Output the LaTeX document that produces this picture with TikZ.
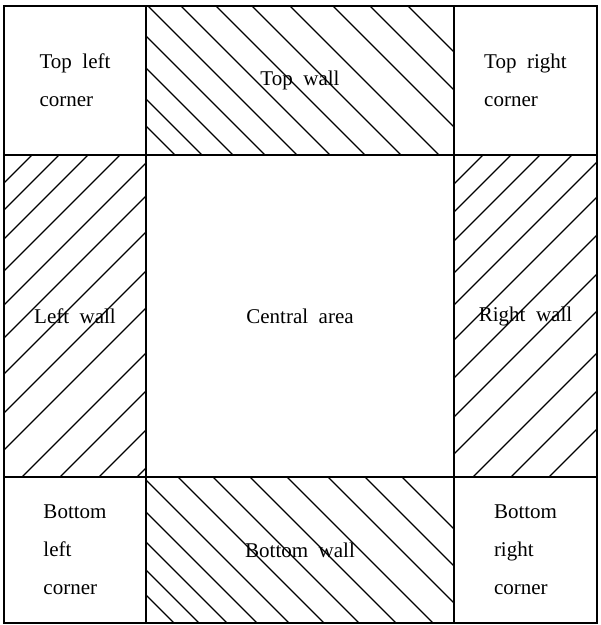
\documentclass[tikz,border=0pt]{standalone}
\usepackage{fontspec}
\setmainfont{Liberation Serif}
\usetikzlibrary{positioning}
\newcommand\cellfont{\fontsize{10.5}{19}\selectfont\spaceskip 0.5em plus 0.1em\relax}
\tikzset{
  cell/.style={draw,rectangle,line width=0.8pt,inner sep=0pt,outer sep=0pt,align=left,font=\cellfont},
  hatch/.style={line width=0.6pt}
}

\begin{document}
\begin{tikzpicture}[x=0.5pt,y=-0.5pt,node distance=0pt]
\useasboundingbox (0,0) rectangle (600,625);

% top row
\node[cell,minimum width=71pt,minimum height=74.5pt] (tlcorner) at (75,80.5) {Top left\\corner};
\node[cell,minimum width=154pt,minimum height=74.5pt,right=of tlcorner] (topwall) {Top wall};
\node[cell,minimum width=71.5pt,minimum height=74.5pt,right=of topwall] (trcorner) {Top right\\corner};

% middle row
\node[cell,minimum width=71pt,minimum height=161pt,below=of tlcorner] (leftwall) {Left wall};
\node[cell,minimum width=154pt,minimum height=161pt,right=of leftwall] (central) {Central area};
\node[cell,minimum width=71.5pt,minimum height=161pt,right=of central] (rightwall) {Right wall};

% bottom row
\node[cell,minimum width=71pt,minimum height=73pt,below=of leftwall] (blcorner) {Bottom\\left\\corner};
\node[cell,minimum width=154pt,minimum height=73pt,right=of blcorner] (bottomwall) {Bottom wall};
\node[cell,minimum width=71.5pt,minimum height=73pt,right=of bottomwall] (brcorner) {Bottom\\right\\corner};

% hatching of the walls
\begin{scope}
\clip (topwall.south west) rectangle (topwall.north east);
\foreach \c in {20,47,78,110,142,175,210,246,284,327,364,402}
  \draw[hatch] (\c,0) -- ++(160,160);
\end{scope}
\begin{scope}
\clip (bottomwall.south west) rectangle (bottomwall.north east);
\foreach \c in {-449,-424,-396,-366,-334,-299,-264,-227,-190,-149,-112,-75}
  \draw[hatch] ({\c+470},470) -- ++(160,160);
\end{scope}
\begin{scope}
\clip (leftwall.south west) rectangle (leftwall.north east);
\foreach \c in {187,214,243,275,309,342,378,417,454,499,537,576,614}
  \draw[hatch] ({\c-150},150) -- ++(-340,340);
\end{scope}
\begin{scope}
\clip (rightwall.south west) rectangle (rightwall.north east);
\foreach \c in {638,666,695,727,759,794,832,871,908,950,988,1026}
  \draw[hatch] ({\c-150},150) -- ++(-340,340);
\end{scope}
\end{tikzpicture}
\end{document}
